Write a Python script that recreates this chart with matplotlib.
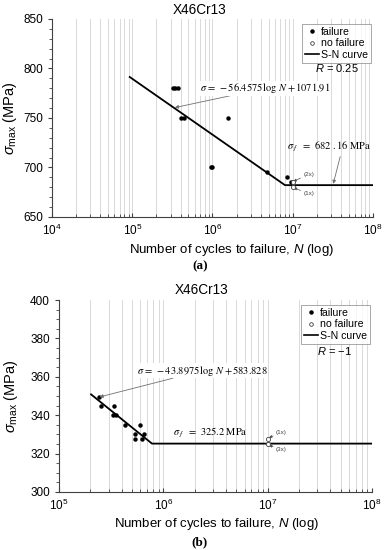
import matplotlib
matplotlib.use("Agg")
import matplotlib.pyplot as plt
from matplotlib.lines import Line2D
from matplotlib.ticker import LogLocator, LogFormatterMathtext, MultipleLocator
import numpy as np

plt.rcParams["font.family"] = ["Liberation Sans", "DejaVu Sans"]
plt.rcParams["mathtext.fontset"] = "custom"
plt.rcParams["mathtext.rm"] = "Liberation Sans"
plt.rcParams["mathtext.it"] = "Liberation Sans:italic"

# (a) R = 0.25
fail_a_N = [3.2e5, 3.45e5, 3.7e5, 4.0e5, 4.4e5, 1.55e6, 9.5e5, 1.0e6, 4.8e6, 8.5e6, 9.4e6]
fail_a_S = [780, 780, 780, 750, 750, 750, 700, 700, 695, 690, 685]
nofail_a_N = [1e7, 1e7]
nofail_a_S = [685, 680]
slope_a, icpt_a, sf_a = -56.4575, 1071.91, 682.16
curve_a_N = [9.3e4, 10 ** ((sf_a - icpt_a) / slope_a), 1e8]

# (b) R = -1
fail_b_N = [2.4e5, 2.55e5, 3.4e5, 3.3e5, 3.5e5, 4.3e5, 6.0e5, 5.4e5, 6.5e5, 5.4e5, 6.3e5]
fail_b_S = [349.5, 345, 345, 340, 340, 335, 335, 330, 330, 327.5, 327.5]
nofail_b_N = [1e7, 1e7]
nofail_b_S = [327.5, 325]
slope_b, icpt_b, sf_b = -43.8975, 583.828, 325.2
curve_b_N = [2.03e5, 10 ** ((sf_b - icpt_b) / slope_b), 1e8]


def sn_line(N, slope, icpt, sf):
    N = np.asarray(N)
    return np.maximum(slope * np.log10(N) + icpt, sf)


fig = plt.figure(figsize=(3.86, 5.5), dpi=100)
ax1 = fig.add_axes([0.1347, 0.6055, 0.8316, 0.36])
ax2 = fig.add_axes([0.1528, 0.1055, 0.8109, 0.349])

arrow = dict(arrowstyle="-|>", color="#707070", lw=0.6, mutation_scale=5, shrinkA=0, shrinkB=0)
small = dict(arrowstyle="-|>", color="#505050", lw=0.5, mutation_scale=4, shrinkA=0, shrinkB=0)


def style(ax, xmin, ymin, ymax, ymaj, ymin_step):
    ax.set_xscale("log")
    ax.set_xlim(xmin, 1e8)
    ax.set_ylim(ymin, ymax)
    ax.xaxis.set_major_locator(LogLocator(base=10, numticks=10))
    ax.xaxis.set_minor_locator(LogLocator(base=10, subs=np.arange(2, 10), numticks=20))
    ax.xaxis.set_major_formatter(LogFormatterMathtext())
    ax.yaxis.set_major_locator(MultipleLocator(ymaj))
    ax.yaxis.set_minor_locator(MultipleLocator(ymin_step))
    ax.grid(True, which="both", axis="x", color="#d9d9d9", lw=0.7)
    ax.set_axisbelow(True)
    for s in ["top", "right"]:
        ax.spines[s].set_visible(False)
    for s in ["left", "bottom"]:
        ax.spines[s].set_color("#404040")
        ax.spines[s].set_linewidth(0.8)
    ax.tick_params(axis="x", which="both", direction="in", labelsize=8.5, colors="#404040",
                   labelcolor="black", pad=4)
    ax.tick_params(axis="x", which="major", length=3)
    ax.tick_params(axis="x", which="minor", length=2)
    ax.tick_params(axis="y", which="major", direction="out", length=3, labelsize=8.5,
                   colors="#404040", labelcolor="black")
    ax.tick_params(axis="y", which="minor", direction="out", length=2, colors="#404040")
    ax.set_xlabel(r"Number of cycles to failure, $N$ (log)", fontsize=9.5)
    ax.set_ylabel(r"$\sigma_{\rm max}$ (MPa)", fontsize=10.5)


def draw(ax, fN, fS, nN, nS, cN, slope, icpt, sf):
    ax.plot(cN, sn_line(cN, slope, icpt, sf), color="black", lw=1.3, zorder=3)
    ax.plot(fN, fS, "o", ms=2.2, color="black", zorder=4, lw=0)
    ax.plot(nN, nS, "o", ms=3, mfc="white", mec="#404040", mew=0.6, zorder=5, lw=0)
    handles = [
        Line2D([], [], ls="none", marker="o", ms=2.2, color="black"),
        Line2D([], [], ls="none", marker="o", ms=2.6, mfc="white", mec="#404040", mew=0.6),
        Line2D([], [], color="black", lw=1.2),
    ]
    leg = ax.legend(handles, ["failure", "no failure", "S-N curve"], loc="upper right",
                    bbox_to_anchor=(0.995, 0.975), fontsize=7.6, frameon=True, fancybox=False,
                    handlelength=1.3, handletextpad=0.2, borderpad=0.3, labelspacing=0.12,
                    borderaxespad=0)
    leg.get_frame().set_edgecolor("#808080")
    leg.get_frame().set_linewidth(0.6)


style(ax1, 1e4, 650, 850, 50, 10)
draw(ax1, fail_a_N, fail_a_S, nofail_a_N, nofail_a_S, curve_a_N, slope_a, icpt_a, sf_a)
ax1.text(0.888, 0.753, r"$R$ = 0.25", transform=ax1.transAxes, ha="center", va="center", fontsize=8)
ax1.annotate(r"$\sigma\, =\, -56.4575\,\log\, N + 1071.91$", xy=(3.4e5, 760.5), xytext=(7.0e5, 780),
             ha="left", va="center", fontsize=7.5, math_fontfamily="stix", arrowprops=arrow, zorder=6,
             bbox=dict(boxstyle="square,pad=0.05", fc="white", ec="none"))
ax1.text(8.6e6, 720.5, r"$\sigma_{\ f}\ \ =\ 682\ .16\ \mathrm{MPa}$", ha="left", va="center",
         fontsize=7.5, math_fontfamily="stix")
ax1.annotate("", xy=(3.2e7, 683.5), xytext=(3.9e7, 711), arrowprops=arrow)
ax1.annotate("(2x)", xy=(1.02e7, 686), xytext=(1.35e7, 693), fontsize=4.5, color="#404040",
             ha="left", va="center", arrowprops=small)
ax1.annotate("(1x)", xy=(1.03e7, 679.5), xytext=(1.35e7, 673.5), fontsize=4.5, color="#404040",
             ha="left", va="center", arrowprops=small)
ax1.xaxis.set_label_coords(0.561, -0.125)
ax1.yaxis.set_label_coords(-0.103, 0.5)

style(ax2, 1e5, 300, 400, 20, 5)
draw(ax2, fail_b_N, fail_b_S, nofail_b_N, nofail_b_S, curve_b_N, slope_b, icpt_b, sf_b)
ax2.text(0.879, 0.736, r"$R$ = $-$1", transform=ax2.transAxes, ha="center", va="center", fontsize=8)
ax2.annotate(r"$\sigma\, =\, -43.8975\,\log\, N + 583.828$", xy=(2.45e5, 349.5), xytext=(5.6e5, 363.2),
             ha="left", va="center", fontsize=7.5, math_fontfamily="stix", arrowprops=arrow, zorder=6,
             bbox=dict(boxstyle="square,pad=0.05", fc="white", ec="none"))
ax2.text(1.23e6, 330.5, r"$\sigma_{\ f}\ \ =\ 325.2\ \mathrm{MPa}$", ha="left", va="center",
         fontsize=7.5, math_fontfamily="stix")
ax2.annotate("(1x)", xy=(1.03e7, 328.3), xytext=(1.2e7, 331), fontsize=4.5, color="#404040",
             ha="left", va="center", arrowprops=small)
ax2.annotate("(3x)", xy=(1.03e7, 324.3), xytext=(1.2e7, 322.3), fontsize=4.5, color="#404040",
             ha="left", va="center", arrowprops=small)
ax2.xaxis.set_label_coords(0.504, -0.125)
ax2.yaxis.set_label_coords(-0.125, 0.5)

fig.text(200 / 386, 1 - 10 / 550, "X46Cr13", ha="center", va="center", fontsize=9.8)
fig.text(202 / 386, 1 - 290 / 550, "X46Cr13", ha="center", va="center", fontsize=9.8)
fig.text(200 / 386, 1 - 266.5 / 550, "(a)", ha="center", va="center", fontsize=9.5,
         family="Liberation Serif", weight="bold")
fig.text(200 / 386, 1 - 542 / 550, "(b)", ha="center", va="center", fontsize=9.5,
         family="Liberation Serif", weight="bold")

fig.savefig("out.png", dpi=100)
